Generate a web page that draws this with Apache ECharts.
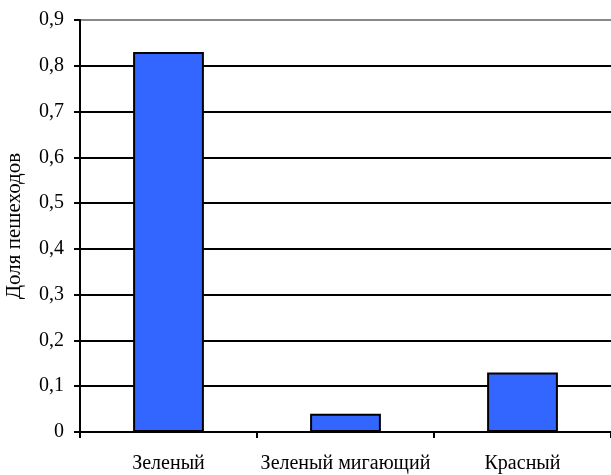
<!DOCTYPE html>
<html>
<head>
<meta charset="utf-8">
<script src="https://cdn.jsdelivr.net/npm/echarts@6/dist/echarts.min.js"></script>
<style>html,body{margin:0;padding:0;background:#fff;}#c{width:611px;height:475px;}</style>
</head>
<body>
<div id="c"></div>
<script>
var categories = ['Зеленый', 'Зеленый мигающий', 'Красный'];
var values = [0.83, 0.04, 0.13];
var yAxisTitle = 'Доля пешеходов';
var yMin = 0, yMax = 0.9, yStep = 0.1;

var chart = echarts.init(document.getElementById('c'), null, {renderer: 'canvas'});
var font = 'Liberation Serif';
chart.setOption({
  animation: false,
  backgroundColor: '#fff',
  grid: {left: 80, width: 536, top: 20, bottom: 43, containLabel: false},
  xAxis: {
    type: 'category',
    data: categories,
    axisLine: {lineStyle: {color: '#000', width: 2}},
    axisTick: {show: true, interval: 0, alignWithLabel: false, length: 6, lineStyle: {color: '#000', width: 2}},
    axisLabel: {color: '#000', fontFamily: font, fontSize: 20, margin: 22, interval: 0, hideOverlap: false}
  },
  yAxis: {
    type: 'value',
    min: yMin, max: yMax, interval: yStep,
    axisLine: {show: true, lineStyle: {color: '#000', width: 2}},
    axisTick: {show: true, length: 6, lineStyle: {color: '#000', width: 2}},
    axisLabel: {color: '#000', fontFamily: font, fontSize: 20, margin: 16,
      formatter: function (v) { return (Math.round(v * 10) / 10).toString().replace('.', ','); }},
    splitLine: {show: true, lineStyle: {color: ['#000','#000','#000','#000','#000','#000','#000','#000','#000','#888'], width: 2}}
  },
  graphic: [{
    type: 'text',
    x: 14, y: 226,
    rotation: Math.PI / 2,
    style: {text: yAxisTitle, fill: '#000', fontFamily: font, fontSize: 21, align: 'center', verticalAlign: 'middle'}
  }],
  series: [{
    type: 'bar',
    data: values,
    barWidth: '40%',
    itemStyle: {color: '#3366FF', borderColor: '#000', borderWidth: 2}
  }]
});
</script>
</body>
</html>
